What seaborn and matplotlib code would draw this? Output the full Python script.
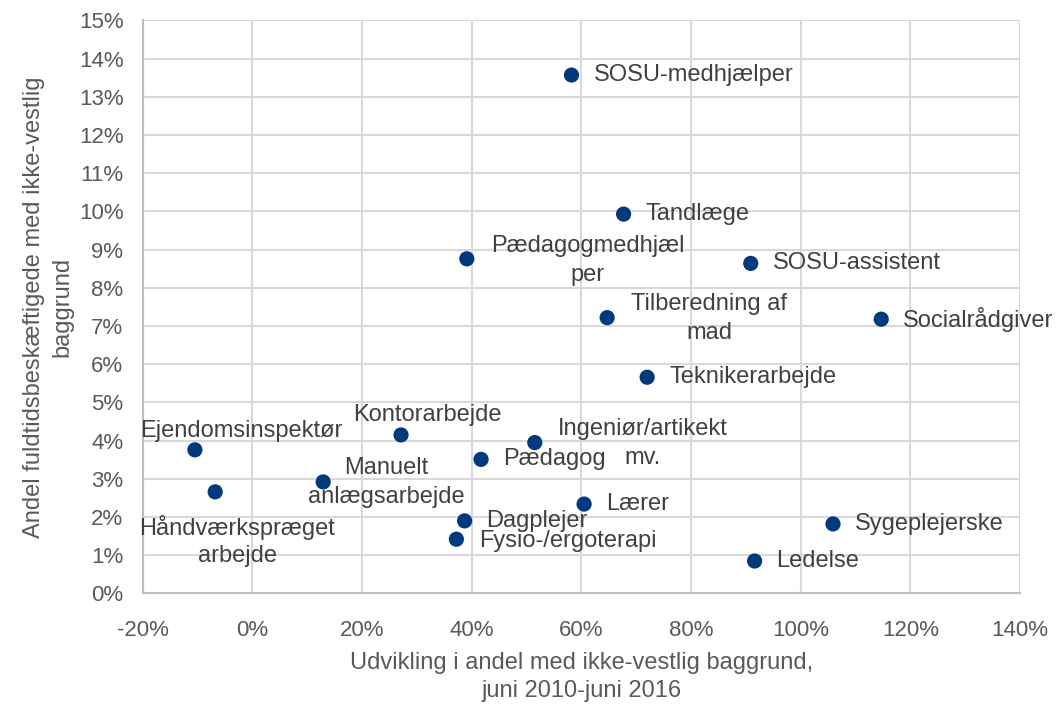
import numpy as np
import pandas as pd
import matplotlib
matplotlib.use('Agg')
import matplotlib.pyplot as plt
import seaborn as sns

# data (percent)
jobs = ['SOSU-medhjælper', 'Tandlæge', 'Pædagogmedhjæl\nper', 'SOSU-assistent',
        'Tilberedning af\nmad', 'Socialrådgiver', 'Teknikerarbejde', 'Kontorarbejde',
        'Ingeniør/artikekt\nmv.', 'Ejendomsinspektør', 'Pædagog', 'Manuelt\nanlægsarbejde',
        'Håndværkspræget\narbejde', 'Lærer', 'Dagplejer', 'Sygeplejerske',
        'Fysio-/ergoterapi', 'Ledelse']
udvikling = [58.2, 67.7, 39.1, 90.9, 64.7, 114.7, 72.0, 27.1, 51.5, -10.5, 41.7, 12.9,
             -6.8, 60.5, 38.7, 105.9, 37.2, 91.6]
andel = [13.57, 9.93, 8.76, 8.64, 7.22, 7.18, 5.66, 4.15, 3.95, 3.76, 3.51, 2.92,
         2.66, 2.34, 1.90, 1.82, 1.42, 0.85]

x_ticks = np.arange(-20, 141, 20)
y_ticks = np.arange(0, 16, 1)

df = pd.DataFrame({'job': jobs, 'x': udvikling, 'y': andel})

# label placement in pixels relative to the point: (dx, dy, ha)
placement = {
    'Pædagogmedhjæl\nper': (121, -2, 'center'),
    'Tilberedning af\nmad': (102, -1, 'center'),
    'Ingeniør/artikekt\nmv.': (108, -1, 'center'),
    'Kontorarbejde': (26, 20, 'center'),
    'Ejendomsinspektør': (46, 19, 'center'),
    'Manuelt\nanlægsarbejde': (63, -1, 'center'),
    'Håndværkspræget\narbejde': (22, -50, 'center'),
    'Fysio-/ergoterapi': (23, -2, 'left'),
}
line_pitch = 29  # pixels between wrapped label lines

sns.set_style('white')
plt.rcParams['font.family'] = ['Liberation Sans', 'DejaVu Sans']

fig = plt.figure(figsize=(10.58, 7.04), dpi=100)
ax = fig.add_axes([0.135, 0.157, 0.829, 0.814])

ax.set_xlim(-20, 140)
ax.set_ylim(0, 15)
ax.set_xticks(x_ticks)
ax.set_yticks(y_ticks)
ax.grid(True, color='#D9D9D9', linewidth=1.5, zorder=0)
ax.set_axisbelow(True)

sns.scatterplot(data=df, x='x', y='y', color='#003A7D', s=120, edgecolor='none',
                zorder=3, ax=ax)

for job, xv, yv in zip(jobs, udvikling, andel):
    dx, dy, ha = placement.get(job, (22, 0, 'left'))
    lines = job.split('\n')
    n = len(lines)
    for i, line in enumerate(lines):
        off = dy + (n - 1) / 2 * line_pitch - i * line_pitch
        ax.annotate(line, (xv, yv), xytext=(dx, off), textcoords='offset pixels',
                    ha=ha, va='center', fontsize=17, color='#404040', zorder=4)

ax.set_xticklabels([f'{t}%' for t in x_ticks])
ax.set_yticklabels([f'{t}%' for t in y_ticks])
ax.tick_params(axis='both', labelsize=16, labelcolor='#595959', length=0)
ax.tick_params(axis='x', pad=19)
ax.tick_params(axis='y', pad=14)

for side in ['top', 'right']:
    ax.spines[side].set_visible(False)
for side in ['left', 'bottom']:
    ax.spines[side].set_color('#BFBFBF')
    ax.spines[side].set_linewidth(1.5)

ax.set_xlabel('Udvikling i andel med ikke-vestlig baggrund,\njuni 2010-juni 2016',
              fontsize=17, color='#595959', labelpad=8, linespacing=1.35)
ax.set_ylabel('Andel fuldtidsbeskæftigede med ikke-vestlig\nbaggrund',
              fontsize=17, color='#595959', labelpad=4, linespacing=1.35)

fig.savefig('out.png', dpi=100)
